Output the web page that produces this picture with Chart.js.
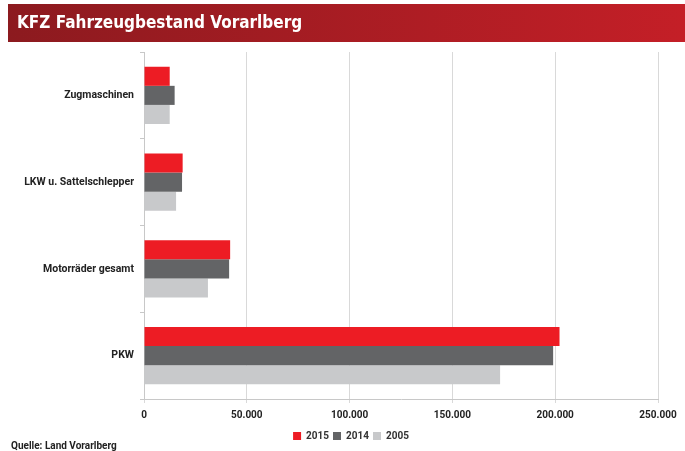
<!DOCTYPE html>
<html>
<head>
<meta charset="utf-8">
<script src="https://cdn.jsdelivr.net/npm/chart.js@4/dist/chart.umd.min.js"></script>
<style>
  html, body { margin: 0; padding: 0; background: #fff; }
  #wrap { width: 685px; height: 451px; position: relative; }
</style>
</head>
<body>
<div id="wrap"><canvas id="chart" width="685" height="451"></canvas></div>
<script>
// KFZ Fahrzeugbestand Vorarlberg
const categories = ['Zugmaschinen', 'LKW u. Sattelschlepper', 'Motorräder gesamt', 'PKW'];
const years = ['2015', '2014', '2005'];
const values2015 = [12500, 18800, 41900, 202100];
const values2014 = [14900, 18500, 41400, 199000];
const values2005 = [12500, 15600, 31100, 173200];
const xTicks = [0, 50000, 100000, 150000, 200000, 250000];

const FONT = "'Roboto', 'DejaVu Sans Condensed', sans-serif";

// title band + source line
const decor = {
    id: 'decor',
    beforeDraw(chart) {
        const ctx = chart.ctx;
        ctx.save();
        ctx.fillStyle = '#fff';
        ctx.fillRect(0, 0, chart.width, chart.height);
        const grad = ctx.createLinearGradient(8, 0, 685, 0);
        grad.addColorStop(0, '#8c1a1f');
        grad.addColorStop(1, '#c41f27');
        ctx.fillStyle = grad;
        ctx.fillRect(8, 4, 677, 38);
        ctx.fillStyle = '#fff';
        ctx.font = 'bold 17px "DejaVu Sans Condensed", sans-serif';
        ctx.textBaseline = 'middle';
        ctx.fillText('KFZ Fahrzeugbestand Vorarlberg', 17, 24);
        ctx.fillStyle = '#222';
        ctx.font = 'bold 10px ' + FONT;
        ctx.textBaseline = 'alphabetic';
        ctx.fillText('Quelle: Land Vorarlberg', 11, 449);
        ctx.restore();
    },
    // centre the legend under the whole page rather than the plot
    afterLayout(chart) {
        if (chart.legend) {
            chart.legend.left += 22;
            chart.legend.right += 22;
        }
    }
};

new Chart(document.getElementById('chart').getContext('2d'), {
    type: 'bar',
    data: {
        labels: categories,
        datasets: [
            { label: years[0], data: values2015, backgroundColor: '#ed1c24' },
            { label: years[1], data: values2014, backgroundColor: '#636466' },
            { label: years[2], data: values2005, backgroundColor: '#c8c9cb' }
        ]
    },
    options: {
        indexAxis: 'y',
        responsive: false,
        animation: false,
        datasets: {
            bar: { categoryPercentage: 0.66, barPercentage: 1.0 }
        },
        layout: { padding: { top: 52, right: 27, bottom: 0, left: 0 } },
        plugins: {
            legend: {
                position: 'bottom',
                labels: {
                    boxWidth: 8,
                    boxHeight: 8,
                    padding: 4,
                    color: '#333',
                    font: { family: FONT, size: 10, weight: 'bold' }
                }
            },
            tooltip: { enabled: false }
        },
        scales: {
            x: {
                min: 0,
                max: 250000,
                afterBuildTicks: (axis) => { axis.ticks = xTicks.map(v => ({ value: v })); },
                grid: { color: '#d9d9d9', tickLength: 4 },
                border: { color: '#c8c8c8' },
                ticks: {
                    color: '#222',
                    padding: 6,
                    font: { family: FONT, size: 10, weight: 'bold' },
                    callback: (v) => v === 0 ? '0' : v.toLocaleString('de-DE')
                }
            },
            y: {
                afterFit: (axis) => { axis.width = 144; },
                grid: { drawOnChartArea: false, offset: true, tickLength: 4, color: '#c8c8c8' },
                border: { color: '#c8c8c8' },
                ticks: {
                    color: '#222',
                    padding: 6,
                    font: { family: FONT, size: 10.5, weight: 'bold' }
                }
            }
        }
    },
    plugins: [decor]
});
</script>
</body>
</html>
